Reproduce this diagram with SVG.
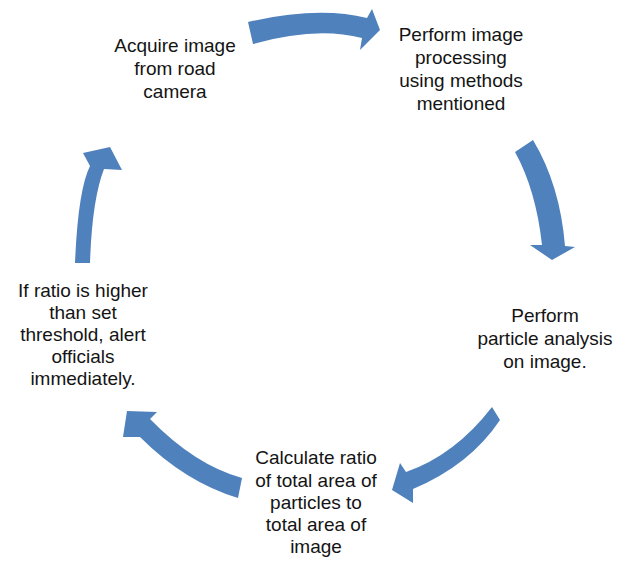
<svg xmlns="http://www.w3.org/2000/svg" width="630" height="561" viewBox="0 0 630 561">
  <style>
    .label { font-family: "Liberation Sans", Arial, sans-serif; font-size: 19px; fill: #141414; text-anchor: middle; }
    .arrow { fill: #4F81BD; stroke: none; }
  </style>
  <rect width="630" height="561" fill="#ffffff"/>

  <!-- Curved block arrows forming the cycle -->
  <g id="connectors">
    <path class="arrow" d="M248,22 Q318,6 367,18 L372,9 L380,30 L360,50 L362,38 Q316,26 253,44 Z"/>
    <path class="arrow" d="M515,152 Q536,190 542,245 L530,245 L552,260 L575,247 L565,246 Q560,185 533,140 Z"/>
    <path class="arrow" d="M492,407 Q455,455 406,472 L400,463 L392,490 L413,503 L413,489 Q470,465 500,420 Z"/>
    <path class="arrow" d="M242,478 Q195,465 150,419 L157,412 L127,411 L123,437 L140,437 Q185,482 238,498 Z"/>
    <path class="arrow" d="M75,263 Q78,190 90,166 L83,153 L110,147 L122,170 L104,169 Q92,200 90,263 Z"/>
  </g>

  <g id="acquire">
    <text class="label" x="175" y="52">Acquire image</text>
    <text class="label" x="175" y="75">from road</text>
    <text class="label" x="175" y="98">camera</text>
  </g>

  <g id="processing">
    <text class="label" x="461" y="41">Perform image</text>
    <text class="label" x="461" y="64">processing</text>
    <text class="label" x="461" y="87">using methods</text>
    <text class="label" x="461" y="110">mentioned</text>
  </g>

  <g id="particle-analysis">
    <text class="label" x="545" y="322">Perform</text>
    <text class="label" x="545" y="345">particle analysis</text>
    <text class="label" x="545" y="368">on image.</text>
  </g>

  <g id="ratio">
    <text class="label" x="316" y="464">Calculate ratio</text>
    <text class="label" x="316" y="487">of total area of</text>
    <text class="label" x="316" y="509">particles to</text>
    <text class="label" x="316" y="531">total area of</text>
    <text class="label" x="316" y="553">image</text>
  </g>

  <g id="alert">
    <text class="label" x="83" y="297">If ratio is higher</text>
    <text class="label" x="83" y="319">than set</text>
    <text class="label" x="83" y="341">threshold, alert</text>
    <text class="label" x="83" y="363">officials</text>
    <text class="label" x="83" y="385">immediately.</text>
  </g>
</svg>
